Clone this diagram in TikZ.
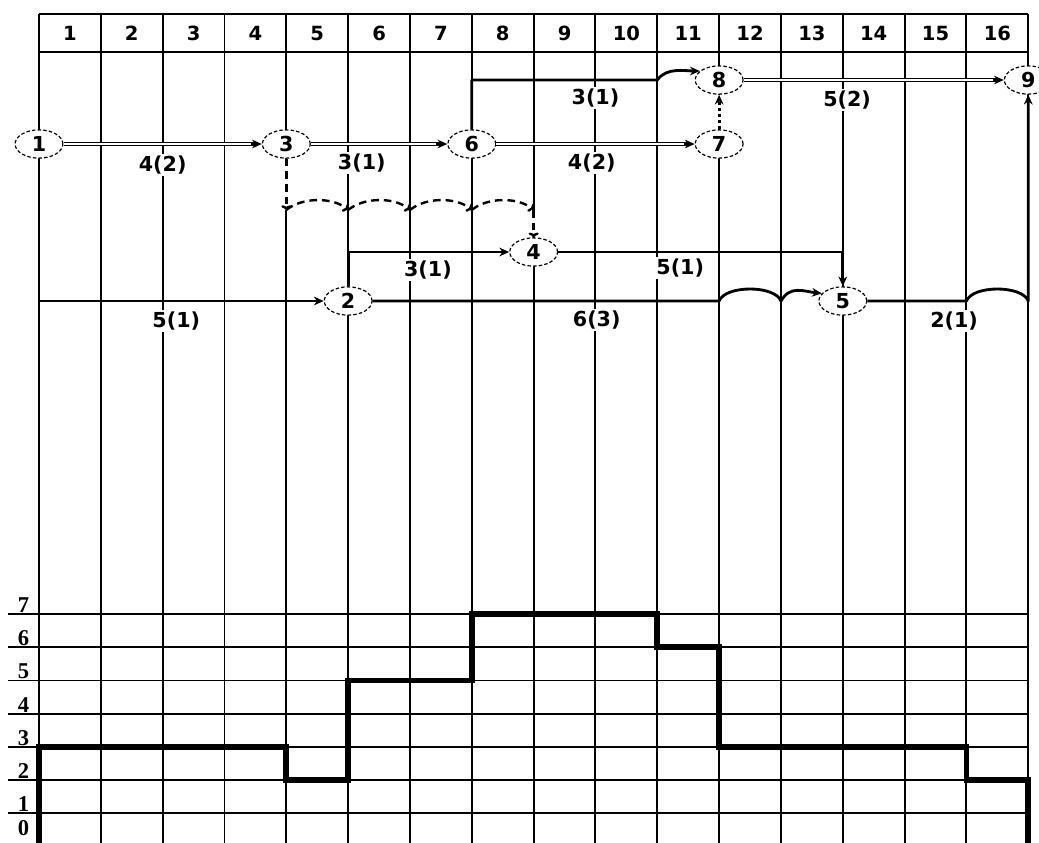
\documentclass[tikz,border=0pt]{standalone}
\usepackage{fontspec}
\setmainfont{DejaVu Sans}
\newfontfamily\axfont{Liberation Serif}
\usetikzlibrary{shapes.geometric,arrows.meta}

\begin{document}
\begin{tikzpicture}[x=1cm,y=-0.16173mm,>={Stealth[length=4.5pt,width=4pt]},line join=round,font=\bfseries]
	\tikzset{
		grid/.style={line width=0.9pt},
		ev/.style={ellipse,draw,line width=0.55pt,dash pattern=on 1.6pt off 1pt,fill=white,minimum width=22pt,minimum height=13pt,inner sep=0pt,font=\fontsize{9.5}{10}\selectfont\bfseries},
		lbl/.style={fill=white,inner sep=1pt,font=\fontsize{9.5}{10}\selectfont\bfseries},
		hd/.style={font=\fontsize{9}{10}\selectfont\bfseries},
		axl/.style={anchor=south,inner sep=0pt,font=\fontsize{10.4}{11}\selectfont\axfont\bfseries},
		dbl/.style={double,double distance=1.1pt,line width=0.5pt,shorten >=3pt},
		tip/.style={line width=0.7pt,->},
		act/.style={line width=1.3pt},
		wipe/.style={preaction={draw=white,solid,line width=2.4pt,arrows=-}},
		dsh/.style={line width=1.1pt,dash pattern=on 3.5pt off 2.3pt,-{To[length=2.2pt]}},
		dot/.style={line width=1.3pt,dash pattern=on 1.4pt off 1.4pt},
		prof/.style={line width=2.6pt,line join=miter}
	}
	\def\base{846.5} \def\rowh{33.2}
	\useasboundingbox (-0.6308,0) rectangle (16.1735,843);
	
	% --- khung lưới + thang thời gian ---
	\foreach \k in {0,...,16} \draw[grid] (\k,14) -- (\k,860);
	\draw[grid] (0,14) -- (16,14) (0,52) -- (16,52);
	\foreach \k in {1,...,16} \node[hd] at (\k-0.5,33) {\k};
	
	% --- biểu đồ nhân lực ---
	\foreach \n in {0,...,7}{
		\pgfmathsetmacro\yy{\base-\rowh*\n}
		\pgfmathsetmacro\ly{min(\yy-1,836)}
		\draw[grid] (-0.5,\yy) -- (16,\yy);
		\node[axl] at (-0.25,\ly) {\n};
	}
	\draw[prof] (0,860) |- (4,746.9) |- (5,780.1) |- (7,680.5) |- (10,614.1)
		|- (11,647.3) |- (15,746.9) |- (16,780.1) -- (16,860);
	
	% --- các sự kiện ---
	\node[ev] (n1) at (0,144) {1};
	\node[ev] (n3) at (4,144) {3};
	\node[ev] (n6) at (7,144) {6};
	\node[ev] (n7) at (11,144) {7};
	\node[ev] (n8) at (11,80) {8};
	\node[ev] (n9) at (16,80) {9};
	\node[ev] (n4) at (8,252) {4};
	\node[ev] (n2) at (5,301) {2};
	\node[ev] (n5) at (13,301) {5};
	
	% --- tên công việc ---
	\node[lbl] (l13) at (2,165) {4(2)};
	\node[lbl] (l36) at (5.22,163) {3(1)};
	\node[lbl] (l67) at (8.94,163) {4(2)};
	\node[lbl] (l68) at (9,98) {3(1)};
	\node[lbl] (l89) at (13.07,100) {5(2)};
	\node[lbl] (l24) at (6.29,270) {3(1)};
	\node[lbl] (l45) at (10.37,268) {5(1)};
	\node[lbl] (l12) at (2.22,321) {5(1)};
	\node[lbl] (l25) at (9.02,320) {6(3)};
	\node[lbl] (l59) at (14.8,321) {2(1)};
	
	% --- điểm phụ ---
	\coordinate (c68) at (10,80);
	\coordinate (w11) at (11,301);
	\coordinate (w12) at (12,301);
	\coordinate (w15) at (15,301);
	\coordinate (w16) at (16,301);
	\foreach \k in {4,...,8} \coordinate (d\k) at (\k,210);
	
	% --- công việc găng (nét đôi) ---
	\foreach \a/\b in {1/3,3/6,6/7,8/9}{
		\draw[dbl] (n\a) -- (n\b);
		\draw[tip] ([xshift=-5pt]n\b.west) -- (n\b.west);
	}
	
	% --- công việc thường ---
	\draw[act,->] (n1) |- (n2);
	\draw[act,->] (n2) |- (n4);
	\draw[act,->] (n4) -| (n5);
	\draw[act,->] (n6) |- (c68) .. controls +(0.15,-13) and +(-0.25,0) .. (n8.155);
	\draw[act,->] (n2) -- (w11) .. controls +(0.1,-16) and +(-0.1,-16) .. (w12)
		.. controls +(0.15,-16) and +(-0.3,-2) .. (n5.160);
	\draw[act,->] (n5) -- (w15) .. controls +(0.1,-16) and +(-0.1,-16) .. (w16) -- (n9);
	
	% --- công việc ảo ---
	\draw[dot,wipe,->] (n7) -- (n8);
	\draw[dsh,wipe] (n3) -- (d4);
	\foreach \a/\b in {4/5,5/6,6/7,7/8}
		\draw[dsh] (d\a) .. controls +(0.25,-13) and +(-0.25,-13) .. (d\b);
	\draw[dsh,wipe] (d8) -- (n4);
\end{tikzpicture}
\end{document}
